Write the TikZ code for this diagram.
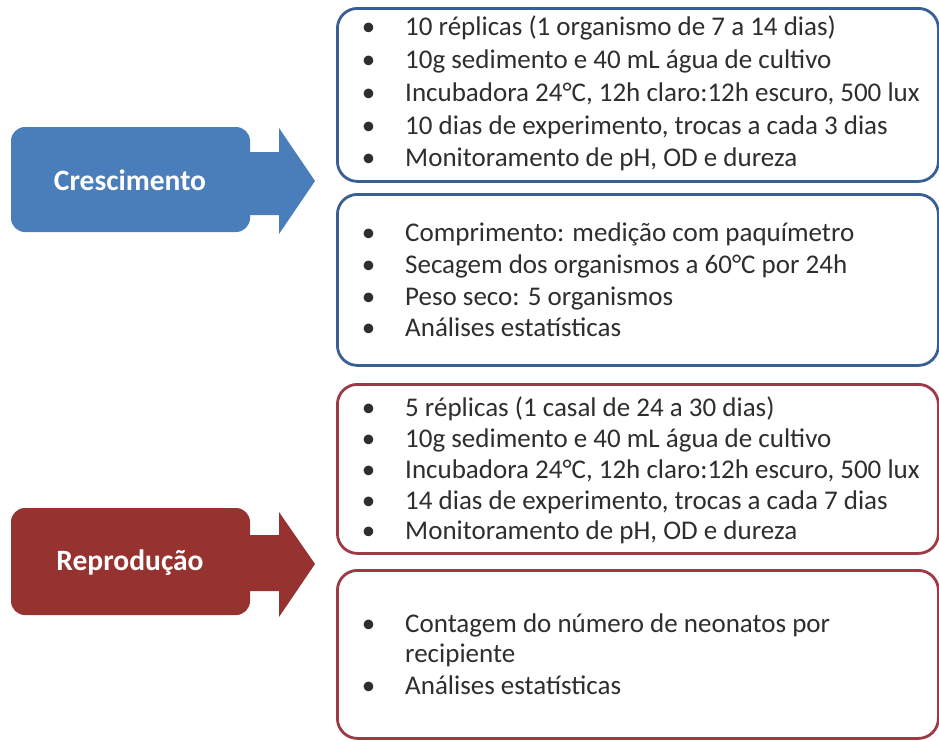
\documentclass[tikz,border=0pt]{standalone}
\usepackage{fontspec}
\setmainfont{Carlito}
\definecolor{bluefill}{HTML}{4A7EBB}
\definecolor{blueline}{HTML}{3A5F95}
\definecolor{redfill}{HTML}{963230}
\definecolor{redline}{HTML}{9E3A45}
\definecolor{txt}{HTML}{2E2E2E}
\newcommand{\bul}{\llap{\textbullet\hspace{30pt}}}
\begin{document}
\begin{tikzpicture}[x=1pt,y=-1pt,
  box/.style={draw, line width=2.8pt, rounded corners=20pt, fill=white, minimum width=601pt, anchor=north west, inner sep=0pt},
  item/.style={anchor=base west, inner sep=0pt, font=\fontsize{27}{32}\selectfont, text=txt},
  lab/.style={anchor=base, inner sep=0pt, font=\fontsize{29.5}{32}\selectfont\bfseries, text=white}]
\fill[white] (0,0) rectangle (939,740);
\useasboundingbox (0,0) rectangle (939,740);

% arrows
\fill[bluefill, rounded corners=14pt] (11,127) rectangle (250,232);
\fill[bluefill] (245,152) -- (279,152) -- (279,128) -- (315,181) -- (279,234) -- (279,215) -- (245,215) -- cycle;
\node[lab] (cres) at (130,190) {Crescimento};

\fill[redfill, rounded corners=14pt] (11,508) rectangle (250,615);
\fill[redfill] (245,535) -- (279,535) -- (279,512) -- (315,564) -- (279,617) -- (279,591) -- (245,591) -- cycle;
\node[lab] (repr) at (130,570) {Reprodução};

% boxes
\node[box, draw=blueline, minimum height=173pt] (box1) at (336,7) {};
\node[box, draw=blueline, minimum height=171pt] (box2) at (336,193) {};
\node[box, draw=redline, minimum height=169pt] (box3) at (336,383) {};
\node[box, draw=redline, minimum height=168pt] (box4) at (336,569) {};

% box 1
\node[item] (b1a) at (405,35) {\bul 10 réplicas (1 organismo  de 7 a 14 dias)};
\node[item] (b1b) at (405,68) {\bul 10g sedimento e 40 mL água de cultivo};
\node[item] (b1c) at (405,101) {\bul Incubadora 24°C, 12h claro:12h escuro, 500 lux};
\node[item] (b1d) at (405,134) {\bul 10 dias de experimento, trocas a cada 3 dias};
\node[item] (b1e) at (405,166) {\bul Monitoramento de pH, OD e dureza};
% box 2
\node[item] (b2a) at (405,241) {\bul Comprimento: medição com paquímetro};
\node[item] (b2b) at (405,273) {\bul Secagem dos organismos a 60°C por 24h};
\node[item] (b2c) at (405,305) {\bul Peso seco: 5 organismos};
\node[item] (b2d) at (405,336) {\bul Análises estatísticas};
% box 3
\node[item] (b3a) at (405,416) {\bul 5 réplicas (1 casal de 24 a 30 dias)};
\node[item] (b3b) at (405,447) {\bul 10g sedimento e 40 mL água de cultivo};
\node[item] (b3c) at (405,478) {\bul Incubadora 24°C, 12h claro:12h escuro, 500 lux};
\node[item] (b3d) at (405,509) {\bul 14 dias de experimento, trocas a cada 7 dias};
\node[item] (b3e) at (405,539) {\bul Monitoramento de pH, OD e dureza};
% box 4
\node[item] (b4a) at (405,632) {\bul Contagem do número de neonatos por};
\node[item] (b4b) at (405,662) {recipiente};
\node[item] (b4c) at (405,694) {\bul Análises estatísticas};
\end{tikzpicture}
\end{document}
